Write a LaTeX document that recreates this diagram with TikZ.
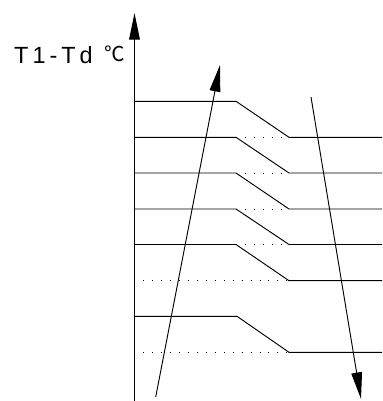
\documentclass[tikz,border=0pt]{standalone}
\usepackage{fontspec}
\setmainfont{Liberation Sans}
\newfontfamily\symfont{Noto Sans CJK SC}
\usetikzlibrary{arrows.meta}
\tikzset{
	curve/.style={line width=0.8pt},
	dots/.style={line width=0.8pt, dash pattern=on 0.8pt off 6.85pt},
	bigarrow/.style={line width=0.8pt, -{Triangle[length=0.8cm, width=0.32cm]}}
}

\begin{document}
\begin{tikzpicture}[x=0.03cm, y=-0.03cm]
		%%%%% START %%%%%
		\useasboundingbox (0, 0) rectangle (382, 401);
		
		\draw[bigarrow, line width=1pt] (134.5, 401) -- (134.5, 13);
		\node[anchor=base west, inner sep=0, font=\fontsize{20}{22}\selectfont] (lbl) at (14, 64) {T\kern3.4pt1\kern3.4pt-\kern3.4pt T\kern3.4pt d};
		\node[anchor=base west, inner sep=0, font=\symfont\fontsize{17.5}{20}\selectfont] (unit) at (104, 61.5) {℃};
		
		\draw[curve] (134.5, 101.3) -- (236, 101.3) -- (289, 137.3) -- (382, 137.3);
		
		\draw[curve] (134.5, 137.3) -- (236, 137.3) -- (289, 173) -- (382, 173);
		\draw[dots] (236, 137.3) -- (289, 137.3);
		
		\draw[curve] (134.5, 173) -- (236, 173) -- (289, 209) -- (382, 209);
		\draw[dots] (236, 173) -- (289, 173);
		
		\draw[curve] (134.5, 209) -- (236, 209) -- (289, 244.5) -- (382, 244.5);
		\draw[dots] (236, 209) -- (289, 209);
		
		\draw[curve] (134.5, 244.5) -- (236, 244.5) -- (289, 280.7) -- (382, 280.7);
		\draw[dots] (236, 244.5) -- (289, 244.5);
		\draw[dots] (143, 280.7) -- (289, 280.7);
		
		\draw[curve] (134.5, 316.3) -- (237, 316.3) -- (289, 352.3) -- (382, 352.3);
		\draw[dots] (143, 352.3) -- (289, 352.3);
		
		\draw[bigarrow] (155.7, 397) -- (220, 65);
		\draw[bigarrow] (311, 97) -- (361, 399);
		%%%%% END %%%%%
	\end{tikzpicture}
\end{document}
